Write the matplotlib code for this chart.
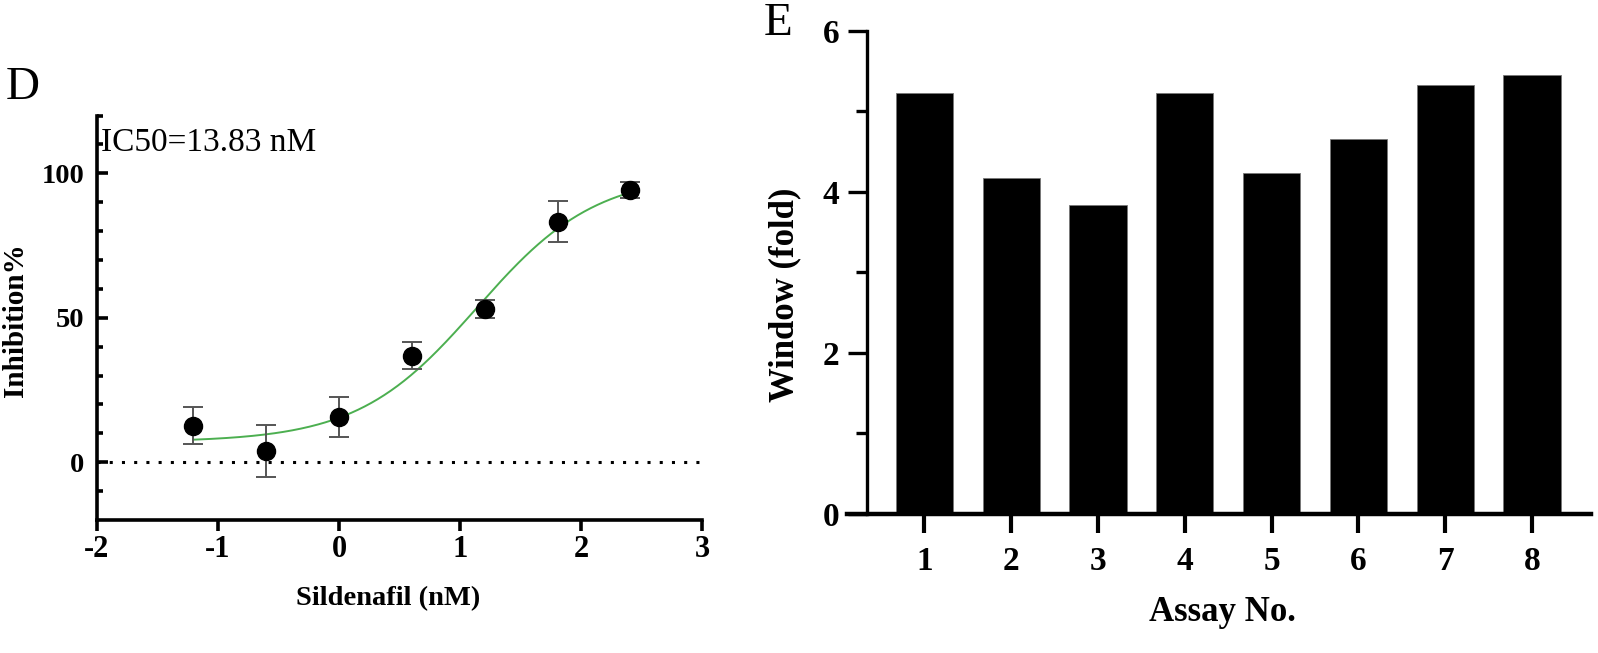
import numpy as np
import matplotlib
matplotlib.use("Agg")
import matplotlib.pyplot as plt
from matplotlib.ticker import FixedLocator

plt.rcParams['font.family'] = ['Liberation Serif', 'DejaVu Serif']

# --- panel D data: log10 concentration vs inhibition ---
log_conc = [-1.204, -0.602, 0.0, 0.602, 1.204, 1.806, 2.408]
inhibition = [12.6, 3.8, 15.6, 36.8, 53.1, 83.3, 94.1]
inhibition_err = [6.4, 9.0, 7.0, 4.7, 3.2, 7.0, 2.8]

# fitted 4PL curve parameters (IC50 shown on the chart)
ic50_nm = 13.83
fit_bottom = 7.0
fit_top = 100.0
fit_hill = 0.88

# --- panel E data ---
assay_no = [1, 2, 3, 4, 5, 6, 7, 8]
window_fold = [5.23, 4.17, 3.84, 5.23, 4.23, 4.66, 5.32, 5.45]

fig = plt.figure(figsize=(15.98, 6.53), dpi=100)

# ---------------- Panel D ----------------
ax1 = fig.add_axes([0.0607, 0.2037, 0.3786, 0.6194])
ax1.set_xlim(-2, 3)
ax1.set_ylim(-20, 120)
for s in ['top', 'right']:
    ax1.spines[s].set_visible(False)
for s in ['left', 'bottom']:
    ax1.spines[s].set_linewidth(2.6)

ax1.axhline(0, color='black', lw=2.2, ls=(0, (1, 3)), zorder=1)

xfit = np.linspace(log_conc[0], log_conc[-1], 200)
yfit = fit_bottom + (fit_top - fit_bottom) / (1 + 10 ** ((np.log10(ic50_nm) - xfit) * fit_hill))
ax1.plot(xfit, yfit, color='#4CAF50', lw=1.4, zorder=2)

ax1.errorbar(log_conc, inhibition, yerr=inhibition_err, fmt='o', color='black',
             ms=13, ecolor='#555555', elinewidth=1.4, capsize=7, capthick=1.4, zorder=3)

ax1.set_xticks([-2, -1, 0, 1, 2, 3])
ax1.set_xticklabels(['-2', '-1', '0', '1', '2', '3'])
ax1.set_yticks([0, 50, 100])
ax1.yaxis.set_minor_locator(FixedLocator([v for v in range(-10, 121, 10) if v not in (0, 50, 100)]))
ax1.tick_params(axis='x', direction='out', length=8, width=2.6, labelsize=22, pad=3)
ax1.tick_params(axis='y', which='major', direction='in', length=8, width=2.6, labelsize=20.5, pad=9)
ax1.tick_params(axis='y', which='minor', direction='in', length=4.5, width=2.6)
for lab in ax1.get_xticklabels() + ax1.get_yticklabels():
    lab.set_fontweight('bold')

ax1.text(-1.97, 110.5, 'IC50=13.83 nM', fontsize=24, va='center', ha='left')

fig.text(0.243, 0.083, 'Sildenafil (nM)', fontsize=20.5, fontweight='bold', ha='center', va='center')
fig.text(0.010, 0.51, 'Inhibition%', fontsize=21, fontweight='bold', rotation=90,
         ha='center', va='center')
fig.text(0.014, 0.866, 'D', fontsize=34, ha='center', va='center')

# ---------------- Panel E ----------------
ax2 = fig.add_axes([0.530, 0.2133, 0.4656, 0.7397])
ax2.bar(assay_no, window_fold, width=0.66, color='black', edgecolor='#777777', linewidth=0.6)
ax2.set_xlim(0.107, 8.68)
ax2.set_ylim(0, 6)
for s in ['top', 'right']:
    ax2.spines[s].set_visible(False)
ax2.spines['left'].set_position(('data', 0.338))
ax2.spines['left'].set_linewidth(2.4)
ax2.spines['bottom'].set_linewidth(3.2)

ax2.set_xticks(assay_no)
ax2.set_yticks([0, 2, 4, 6])
ax2.yaxis.set_minor_locator(FixedLocator([1, 3, 5]))
ax2.tick_params(axis='x', direction='out', length=14, width=3.0, labelsize=24, pad=9)
ax2.tick_params(axis='y', which='major', direction='out', length=14, width=2.4, labelsize=24, pad=6)
ax2.tick_params(axis='y', which='minor', direction='out', length=8, width=2.4)
for lab in ax2.get_xticklabels() + ax2.get_yticklabels():
    lab.set_fontweight('bold')

fig.text(0.765, 0.062, 'Assay No.', fontsize=25, fontweight='bold', ha='center', va='center')
fig.text(0.491, 0.548, 'Window (fold)', fontsize=25, fontweight='bold', rotation=90,
         ha='center', va='center')
fig.text(0.487, 0.964, 'E', fontsize=34, ha='center', va='center')

fig.savefig('out.png', dpi=100)
